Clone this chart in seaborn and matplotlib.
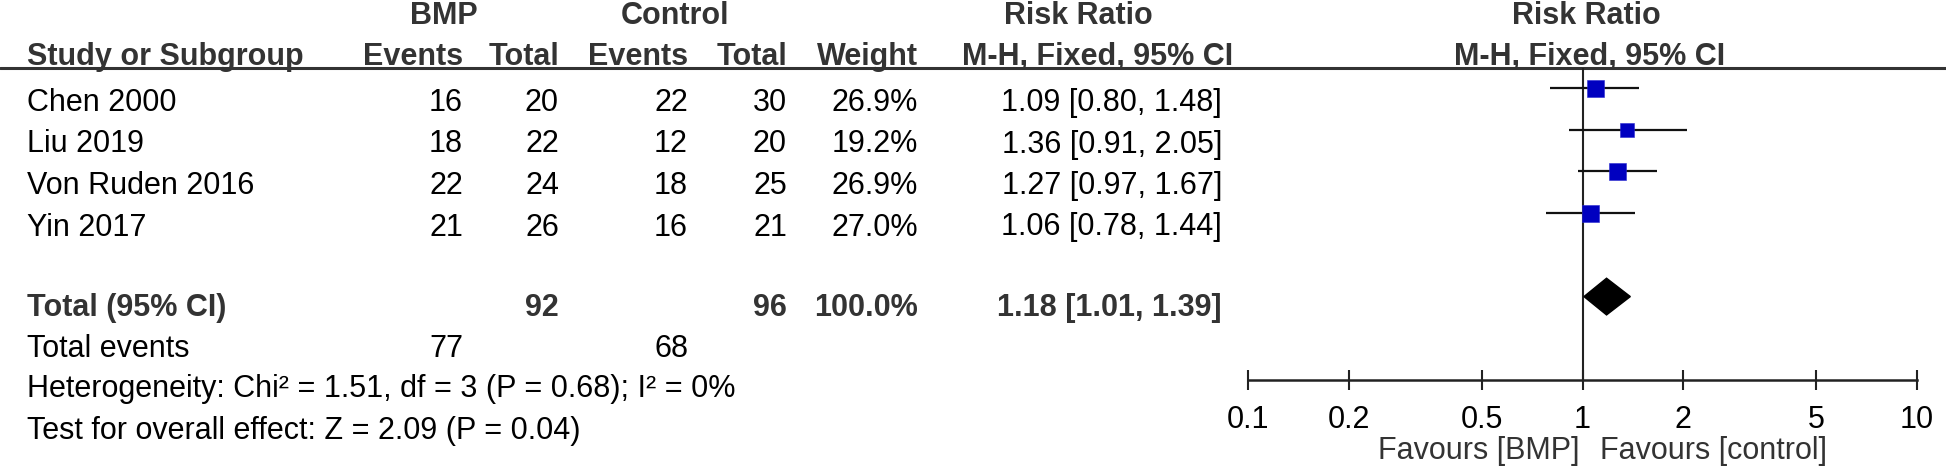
import matplotlib
matplotlib.use("Agg")
import matplotlib.pyplot as plt
import pandas as pd
import seaborn as sns

# study rows
studies = ["Chen 2000", "Liu 2019", "Von Ruden 2016", "Yin 2017"]
bmp_events = [16, 18, 22, 21]
bmp_total = [20, 22, 24, 26]
ctl_events = [22, 12, 18, 16]
ctl_total = [30, 20, 25, 21]
weights = [26.9, 19.2, 26.9, 27.0]
rr = [1.09, 1.36, 1.27, 1.06]
rr_low = [0.80, 0.91, 0.97, 0.78]
rr_high = [1.48, 2.05, 1.67, 1.44]

# pooled result
total_bmp = 92
total_ctl = 96
total_weight = 100.0
total_rr = 1.18
total_low = 1.01
total_high = 1.39
events_bmp = 77
events_ctl = 68
heterogeneity = "Heterogeneity: Chi² = 1.51, df = 3 (P = 0.68); I² = 0%"
overall_effect = "Test for overall effect: Z = 2.09 (P = 0.04)"

xticks = [0.1, 0.2, 0.5, 1, 2, 5, 10]
xtick_labels = ["0.1", "0.2", "0.5", "1", "2", "5", "10"]
favours = ["Favours [BMP]", "Favours [control]"]

W, H = 1946, 468
sns.set_theme(style="white")
plt.rcParams["font.family"] = ["Liberation Sans", "DejaVu Sans"]
FS = 22
HEAD = "#333333"

fig = plt.figure(figsize=(W / 100, H / 100), dpi=100)

# text layer in pixel coordinates
tx = fig.add_axes([0, 0, 1, 1])
tx.set_xlim(0, W)
tx.set_ylim(H, 0)
tx.axis("off")


def put(x, yc, s, ha="left", bold=False, color="black"):
    tx.text(x, yc + 11, s, ha=ha, va="baseline", fontsize=FS,
            fontweight="bold" if bold else "normal", color=color)


def row_y(r):
    return 100 + 41.5 * r


# column x positions
C_NAME, C_BE, C_BT, C_CE, C_CT, C_W, C_RR = 27, 463, 559, 688, 787, 918, 1222

# headers
put(444, 13, "BMP", ha="center", bold=True, color=HEAD)
put(675, 13, "Control", ha="center", bold=True, color=HEAD)
put(1078, 13, "Risk Ratio", ha="center", bold=True, color=HEAD)
put(1586, 13, "Risk Ratio", ha="center", bold=True, color=HEAD)
put(C_NAME, 54, "Study or Subgroup", bold=True, color=HEAD)
put(C_BE, 54, "Events", ha="right", bold=True, color=HEAD)
put(C_BT, 54, "Total", ha="right", bold=True, color=HEAD)
put(C_CE, 54, "Events", ha="right", bold=True, color=HEAD)
put(C_CT, 54, "Total", ha="right", bold=True, color=HEAD)
put(C_W, 54, "Weight", ha="right", bold=True, color=HEAD)
put(1098, 54, "M-H, Fixed, 95% CI", ha="center", bold=True, color=HEAD)
put(1590, 54, "M-H, Fixed, 95% CI", ha="center", bold=True, color=HEAD)
tx.axhline(68, color=HEAD, lw=2.2)

for i, name in enumerate(studies):
    y = row_y(i)
    put(C_NAME, y, name)
    put(C_BE, y, str(bmp_events[i]), ha="right")
    put(C_BT, y, str(bmp_total[i]), ha="right")
    put(C_CE, y, str(ctl_events[i]), ha="right")
    put(C_CT, y, str(ctl_total[i]), ha="right")
    put(C_W, y, f"{weights[i]:.1f}%", ha="right")
    put(C_RR, y, f"{rr[i]:.2f} [{rr_low[i]:.2f}, {rr_high[i]:.2f}]", ha="right")

y = row_y(4.94)
put(C_NAME, y, "Total (95% CI)", bold=True, color=HEAD)
put(C_BT, y, str(total_bmp), ha="right", bold=True, color=HEAD)
put(C_CT, y, str(total_ctl), ha="right", bold=True, color=HEAD)
put(C_W, y, f"{total_weight:.1f}%", ha="right", bold=True, color=HEAD)
put(C_RR, y, f"{total_rr:.2f} [{total_low:.2f}, {total_high:.2f}]", ha="right", bold=True, color=HEAD)
y = row_y(5.92)
put(C_NAME, y, "Total events")
put(C_BE, y, str(events_bmp), ha="right")
put(C_CE, y, str(events_ctl), ha="right")
put(C_NAME, row_y(6.9), heterogeneity)
put(C_NAME, row_y(7.9), overall_effect)

# forest panel: x from 0.1 to 10, y spans header rule (68px) to axis (380px)
left, right, top, bottom = 1248, 1917, 68, 380
ax = fig.add_axes([left / W, (H - bottom) / H, (right - left) / W, (bottom - top) / H])
ax.patch.set_alpha(0)
ax.set_xscale("log")
ax.set_xlim(xticks[0], xticks[-1])
ax.set_ylim(7.0, -0.48)

df = pd.DataFrame({"rr": rr, "low": rr_low, "high": rr_high,
                   "weight": weights, "row": range(len(studies))})
ax.axvline(1, color="#222222", lw=1.5, zorder=1)
ax.hlines(df["row"], df["low"], df["high"], color="#111111", lw=1.6, zorder=2)
sns.scatterplot(data=df, x="rr", y="row", size="weight", sizes=(0, 150.7),
                size_norm=(0, 27.0), marker="s", color="#0000C0",
                edgecolor="#2a2ad0", linewidth=0.4, legend=False, ax=ax, zorder=3)

# pooled diamond
d_row, d_h = 5.0, 0.44
ax.fill([total_low, total_rr, total_high, total_rr],
        [d_row, d_row - d_h, d_row, d_row + d_h], color="black", zorder=3)

ax.set_xticks(xticks)
ax.set_xticklabels(xtick_labels)
ax.minorticks_off()
ax.set_yticks([])
ax.set_xlabel("")
ax.set_ylabel("")
for s in ["top", "left", "right"]:
    ax.spines[s].set_visible(False)
ax.spines["bottom"].set_linewidth(1.8)
ax.spines["bottom"].set_color("#222222")
ax.tick_params(axis="x", which="major", bottom=True, direction="inout",
               length=14.4, width=1.5, color="#222222", pad=11,
               labelsize=FS, labelcolor="black")

put(1579, 448, favours[0], ha="right", color=HEAD)
put(1600, 448, favours[1], ha="left", color=HEAD)

fig.savefig("out.png", dpi=100, facecolor="white")
